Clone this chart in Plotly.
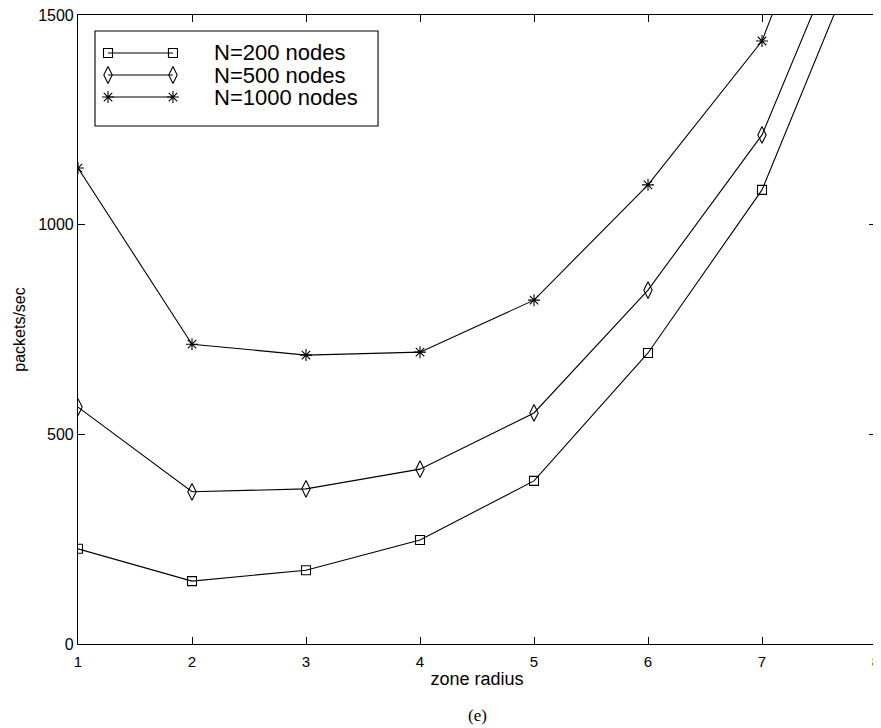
import plotly.graph_objects as go

# ---- data ----
zone_radius = [1, 2, 3, 4, 5, 6, 7, 8]
n200 = [227, 150, 176, 248, 389, 694, 1083, 1744]
n500 = [565, 363, 370, 417, 551, 844, 1214, 1866]
n1000 = [1135, 715, 689, 696, 820, 1095, 1438, 2145]
series_names = ["N=200 nodes", "N=500 nodes", "N=1000 nodes"]
x_ticks = [1, 2, 3, 4, 5, 6, 7, 8]
y_ticks = [0, 500, 1000, 1500]

symbols = ["square-open", "diamond-tall-open", "asterisk-open"]
sizes = [9, 12, 10]

fig = go.Figure()
for ys, name, sym, sz in zip([n200, n500, n1000], series_names, symbols, sizes):
    fig.add_trace(go.Scatter(
        x=zone_radius, y=ys, mode="lines+markers", name=name,
        line=dict(color="black", width=1.1),
        marker=dict(symbol=sym, size=sz, color="black",
                    line=dict(color="black", width=1.1)),
        showlegend=False,
    ))

# ---- custom Matlab-style legend (marker at both ends of the line) ----
leg_rows = [0.9396, 0.9046, 0.8696]
leg_x0, leg_x1, leg_tx = 0.0376, 0.119, 0.169
for row, name, sym, sz in zip(leg_rows, series_names, symbols, sizes):
    fig.add_trace(go.Scatter(
        x=[leg_x0, leg_x1], y=[row, row], mode="lines+markers",
        xaxis="x2", yaxis="y2", showlegend=False, hoverinfo="skip",
        line=dict(color="black", width=1.1),
        marker=dict(symbol=sym, size=sz, color="black",
                    line=dict(color="black", width=1.1)),
    ))
    fig.add_annotation(x=leg_tx, y=row, xref="paper", yref="paper",
                       text=name, showarrow=False, xanchor="left",
                       yanchor="middle", borderpad=0, height=21,
                       font=dict(family="Liberation Sans, Arial", size=22,
                                 color="black"))

fig.add_shape(type="rect", xref="paper", yref="paper",
              x0=0.0213, x1=0.376, y0=0.8235, y1=0.9746,
              line=dict(color="black", width=1.1), fillcolor="rgba(0,0,0,0)")

fig.add_annotation(x=0.5, y=-0.1129, xref="paper", yref="paper",
                   text="(e)", showarrow=False, yanchor="middle",
                   font=dict(family="Liberation Serif, Times New Roman",
                             size=17, color="black"))

ytick_font = dict(family="Liberation Sans, Arial", size=16, color="black")
xtick_font = dict(family="Liberation Sans, Arial", size=15, color="black")
ytitle_font = dict(family="Liberation Sans, Arial", size=16, color="black")
xtitle_font = dict(family="Liberation Sans, Arial", size=18, color="black")

# the page body has an 8px default margin, so the figure is sized to fit
fig.update_layout(
    width=873, height=720,
    margin=dict(l=70, r=5, t=7, b=84),
    paper_bgcolor="white", plot_bgcolor="white",
    showlegend=False,
    xaxis=dict(range=[1, 8], tickvals=x_ticks, ticks="inside", ticklen=7,
               tickcolor="black", showline=True, linecolor="black",
               linewidth=1.1, mirror="ticks", showgrid=False, zeroline=False,
               tickfont=xtick_font, automargin=False,
               ticklabeloverflow="allow", ticklabelstandoff=4,
               title=dict(text="zone radius", font=xtitle_font, standoff=3)),
    yaxis=dict(range=[0, 1500], tickvals=y_ticks, ticks="inside", ticklen=7,
               tickcolor="black", showline=True, linecolor="black",
               linewidth=1.1, mirror="ticks", showgrid=False, zeroline=False,
               tickfont=ytick_font, automargin=False,
               ticklabeloverflow="allow",
               title=dict(text="packets/sec", font=ytitle_font, standoff=8)),
    xaxis2=dict(range=[0, 1], overlaying="x", visible=False,
                fixedrange=True),
    yaxis2=dict(range=[0, 1], overlaying="y", visible=False,
                fixedrange=True),
)

fig.write_html("out.html")
